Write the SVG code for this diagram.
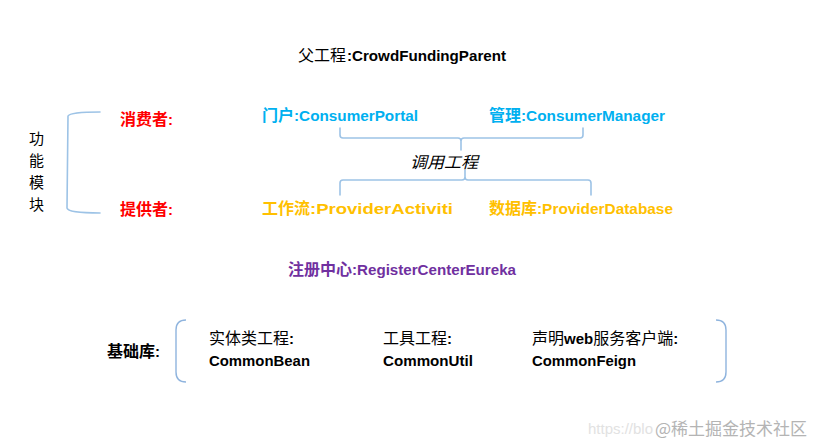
<svg xmlns="http://www.w3.org/2000/svg" width="813" height="446" viewBox="0 0 813 446">
<style>
.cjk{font-family:"Noto Sans CJK SC","Microsoft YaHei",sans-serif;font-size:16px}
.lat{font-family:"Liberation Sans",Arial,sans-serif;font-size:15px;font-weight:bold}
.vert{font-size:15px}
.red{fill:#FF0000;font-weight:bold}
.blue{fill:#00B0F0;font-weight:bold}
.orange{fill:#FFC000;font-weight:bold}
.purple{fill:#7030A0;font-weight:bold}
.blk{fill:#000}
.br{fill:none;stroke:#9DC3E6;stroke-width:1.6;stroke-linecap:round;stroke-linejoin:round}
.br2{fill:none;stroke:#8FB4DE;stroke-width:1.4}
</style>
<rect width="813" height="446" fill="#fff"/>
<g id="connectors">
<path class="br" d="M100,112 Q70,112 68,116 L67,208 Q68,213 100,213"/>
<path class="br" d="M340,128 L340,135 Q340,138 343,138 L458,138 Q461,138 461,141 L461,150 M461,141 Q461,138 464,138 L580,138 Q583,138 583,135 L583,128"/>
<path class="br" d="M340,195 L340,183 Q340,180 343,180 L462,180 Q465,180 465,177 L465,170 M465,177 Q465,180 468,180 L588,180 Q591,180 591,183 L591,195"/>
<path class="br2" d="M186,320 Q176,320 176,330 L176,372 Q176,382 186,382"/>
<path class="br2" d="M716,320 Q726,320 726,330 L726,372 Q726,382 716,382"/>
</g>
<g id="parent">
<text class="cjk blk" x="298" y="61">父工程</text>
<text class="lat blk" x="347" y="61" textLength="159" lengthAdjust="spacingAndGlyphs">:CrowdFundingParent</text>
</g>
<g id="module-label">
<text class="cjk vert blk" x="29" y="144">功</text>
<text class="cjk vert blk" x="29" y="166">能</text>
<text class="cjk vert blk" x="29" y="188">模</text>
<text class="cjk vert blk" x="29" y="210">块</text>
</g>
<g id="consumer-label"><text class="cjk red" x="120" y="125">消费者<tspan class="lat">:</tspan></text></g>
<g id="provider-label"><text class="cjk red" x="120" y="215">提供者<tspan class="lat">:</tspan></text></g>
<g id="portal">
<text class="cjk blue" x="262" y="121">门户</text>
<text class="lat blue" x="294" y="121" textLength="124" lengthAdjust="spacingAndGlyphs">:ConsumerPortal</text>
</g>
<g id="manager">
<text class="cjk blue" x="489" y="121">管理</text>
<text class="lat blue" x="521" y="121" textLength="144" lengthAdjust="spacingAndGlyphs">:ConsumerManager</text>
</g>
<g id="invoke">
<text class="cjk blk" x="410" y="168" font-style="italic" textLength="68" lengthAdjust="spacingAndGlyphs">调用工程</text>
</g>
<g id="activiti">
<text class="cjk orange" x="262" y="214">工作流</text>
<text class="lat orange" x="310" y="214" textLength="143" lengthAdjust="spacingAndGlyphs">:ProviderActiviti</text>
</g>
<g id="database">
<text class="cjk orange" x="489" y="214">数据库</text>
<text class="lat orange" x="537" y="214" textLength="136" lengthAdjust="spacingAndGlyphs">:ProviderDatabase</text>
</g>
<g id="eureka">
<text class="cjk purple" x="288" y="275">注册中心</text>
<text class="lat purple" x="352" y="275" textLength="164" lengthAdjust="spacingAndGlyphs">:RegisterCenterEureka</text>
</g>
<g id="base-label"><text class="cjk blk" x="107" y="357" font-weight="bold">基础库<tspan class="lat">:</tspan></text></g>
<g id="common-bean">
<text class="cjk blk" x="209" y="344">实体类工程<tspan class="lat">:</tspan></text>
<text class="lat blk" x="209" y="366" textLength="101" lengthAdjust="spacingAndGlyphs">CommonBean</text>
</g>
<g id="common-util">
<text class="cjk blk" x="383" y="344">工具工程<tspan class="lat">:</tspan></text>
<text class="lat blk" x="383" y="366" textLength="90" lengthAdjust="spacingAndGlyphs">CommonUtil</text>
</g>
<g id="common-feign">
<text class="cjk blk" x="532" y="344">声明<tspan class="lat">web</tspan>服务客户端<tspan class="lat">:</tspan></text>
<text class="lat blk" x="532" y="366" textLength="104" lengthAdjust="spacingAndGlyphs">CommonFeign</text>
</g>
<g id="watermark">
<text x="588" y="434" font-family="Liberation Sans,Arial,sans-serif" font-size="15" fill="#e2e2e2">https://blo</text>
<text x="655" y="435" font-family="Noto Sans CJK SC,sans-serif" font-size="17" fill="#b4b4b4">@稀土掘金技术社区</text>
</g>
</svg>
